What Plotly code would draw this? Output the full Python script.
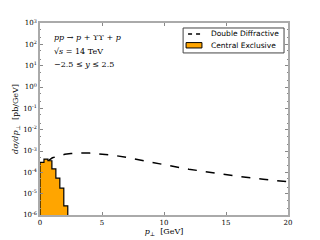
import plotly.graph_objects as go

# Central exclusive histogram (bin edges and heights)
ce_edges = [0.0, 0.32, 0.64, 0.96, 1.28, 1.60, 1.92, 2.24]
ce_vals = [2.9e-4, 4.2e-4, 3.5e-4, 1.45e-4, 5.3e-5, 1.8e-5, 2.7e-6]

# Double diffractive curve
dd_pt = [0.05, 0.1, 0.15, 0.2, 0.3, 0.5, 0.75, 1.0, 1.5, 2.0, 2.5, 3.0, 3.5, 4.0, 5.0,
         6.0, 7.0, 8.0, 9.0, 10.0, 12.0, 14.0, 15.0, 16.0, 18.0, 20.0]
dd_val = [1e-6, 1e-5, 3e-5, 6e-5, 1.3e-4, 2.5e-4, 3.8e-4, 4.8e-4, 6.0e-4, 7.0e-4, 7.6e-4,
          8.0e-4, 8.1e-4, 8.0e-4, 7.3e-4, 6.2e-4, 5.0e-4, 3.8e-4, 3.0e-4, 2.3e-4, 1.4e-4,
          9.5e-5, 7.8e-5, 6.5e-5, 4.8e-5, 3.6e-5]

series_names = ["Double Diffractive", "Central Exclusive"]
y_exps = [-6, -5, -4, -3, -2, -1, 0, 1, 2, 3]
x_ticks = [0, 5, 10, 15, 20]

# build step polygon for histogram
px, py = [ce_edges[0]], [1e-8]
for i, v in enumerate(ce_vals):
    px += [ce_edges[i], ce_edges[i + 1]]
    py += [v, v]
px.append(ce_edges[-1]); py.append(1e-8)

fig = go.Figure()
fig.add_trace(go.Scatter(x=dd_pt, y=dd_val, mode="lines", name=series_names[0],
                         line=dict(color="black", dash="dash", width=1.5)))
fig.add_trace(go.Scatter(x=px, y=py, mode="lines", fill="toself", fillcolor="#FFA500",
                         name=series_names[1], line=dict(color="black", width=1.2)))

serif = "DejaVu Serif"
sans = "DejaVu Sans"
txt = dict(family=serif, size=8, color="black")

annotations = [
    dict(x=0.048, y=0.927, text="<i>pp</i> → <i>p</i> + ϒϒ + <i>p</i>"),
    dict(x=0.048, y=0.854, text="√<i>s</i> = 14 TeV"),
    dict(x=0.048, y=0.786, text="−2.5 ≤ <i>y</i> ≤ 2.5"),
]
for a in annotations:
    a.update(xref="paper", yref="paper", xanchor="left", yanchor="middle",
             showarrow=False, font=txt)

# manual legend
annotations += [
    dict(x=0.681, y=0.943, text=series_names[0]),
    dict(x=0.681, y=0.885, text=series_names[1]),
]
for a in annotations[3:]:
    a.update(xref="paper", yref="paper", xanchor="left", yanchor="middle",
             showarrow=False, font=dict(family=sans, size=7.5, color="black"))

shapes = [
    dict(type="rect", xref="paper", yref="paper", x0=0.577, x1=0.984, y0=0.844, y1=0.974,
         line=dict(color="#444", width=1), fillcolor="white", layer="above"),
    dict(type="line", xref="paper", yref="paper", x0=0.597, x1=0.648, y0=0.943, y1=0.943,
         line=dict(color="black", width=1.5, dash="4px,4px"), layer="above"),
    dict(type="rect", xref="paper", yref="paper", x0=0.589, x1=0.653, y0=0.870, y1=0.898,
         line=dict(color="black", width=1), fillcolor="#FFA500", layer="above"),
]

fig.update_layout(
    width=320, height=240,
    margin=dict(l=32, r=40, t=15, b=33, autoexpand=False),
    plot_bgcolor="white", paper_bgcolor="white",
    showlegend=False,
    annotations=annotations,
    shapes=shapes,
)
fig.update_xaxes(range=[0, 20], tickvals=x_ticks, ticktext=[str(t) for t in x_ticks],
                 automargin=False,
                 showgrid=False, zeroline=False, showline=True, mirror="allticks",
                 linecolor="#aaaaaa", linewidth=1.5, ticks="inside", ticklen=3,
                 tickcolor="#888", tickfont=dict(family=serif, size=7, color="black"),
                 title=dict(text="<i>p</i><sub>⊥</sub>  [GeV]", standoff=0,
                            font=dict(family=serif, size=8, color="black")))
fig.update_yaxes(type="log", range=[-6, 3],
                 tickvals=[10.0 ** e for e in y_exps],
                 ticktext=["10<sup>%d</sup>" % e for e in y_exps],
                 automargin=False,
                 showgrid=False, zeroline=False, showline=True, mirror="allticks",
                 linecolor="#aaaaaa", linewidth=1.5, ticks="inside", ticklen=3,
                 tickcolor="#888", tickfont=dict(family=serif, size=7, color="black"),
                 minor=dict(ticks="inside", ticklen=1.5, tickcolor="#888", showgrid=False),
                 title=dict(text="<i>dσ/dp</i><sub>⊥</sub>  [pb/GeV]", standoff=3,
                            font=dict(family=serif, size=8, color="black")))
fig.write_html("out.html")
